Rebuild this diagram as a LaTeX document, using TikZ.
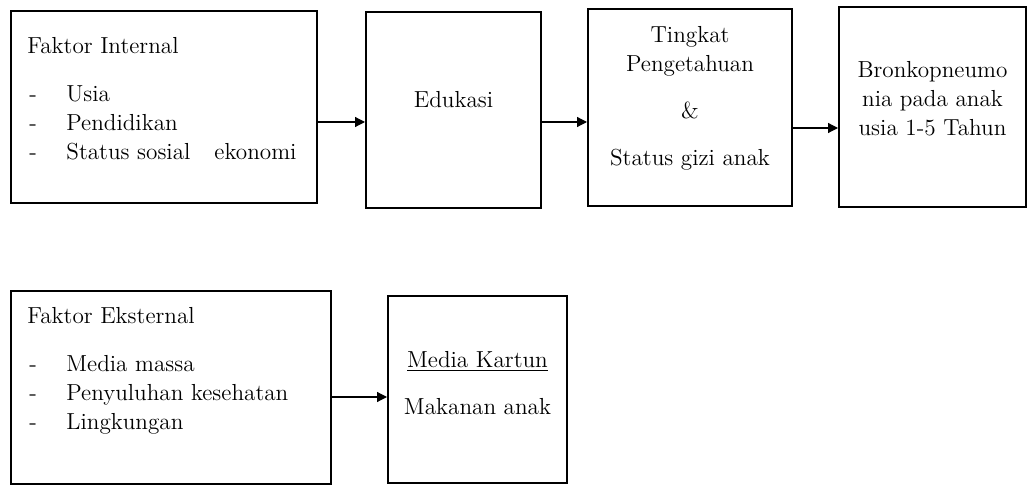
\documentclass[tikz,border=0pt]{standalone}
\usepackage{fontspec}
\usetikzlibrary{arrows.meta, positioning}
\tikzset{
  box/.style = {draw, line width=1pt, inner sep=0pt},
  txt/.style = {inner sep=0pt, font=\fontsize{11.6}{14.5}\selectfont},
  arrow/.style = {line width=0.6pt, -{Triangle[length=5pt, width=5pt]}}
}
\newcommand{\itm}[1]{\makebox[19.5pt][l]{\hspace{1pt}-}#1}

\begin{document}
\begin{tikzpicture}[x=0.5pt, y=-0.5pt]
  \useasboundingbox (0,0) rectangle (1028,486);

  % First row
  \node[box, minimum width=153pt, minimum height=96pt] (internal) at (164,107) {};
  \node[box, minimum width=87.5pt, minimum height=98pt] (edukasi) at (453.5,110) {};
  \node[box, minimum width=102pt, minimum height=98.5pt] (pengetahuan) at (690,107.5) {};
  \node[box, minimum width=93.5pt, minimum height=100pt] (bronko) at (932.5,107) {};

  % Second row
  \node[box, minimum width=160pt, minimum height=96.5pt] (eksternal) at (171,387.5) {};
  \node[box, minimum width=89.5pt, minimum height=93.5pt] (media) at (477.5,389.5) {};

  % Texts
  \node[txt, align=left, below right=13.5pt and 8.5pt of internal.north west] (internaltxt)
    {Faktor Internal\\[9.5pt]\itm{Usia}\\\itm{Pendidikan}\\\itm{Status sosial\hspace{12pt}ekonomi}};
  \node[txt, anchor=base] (edukasitxt) at ([yshift=1pt]edukasi.center) {Edukasi};
  \node[txt, align=center, below=9pt of pengetahuan.north] (pengetahuantxt)
    {Tingkat\\Pengetahuan\\[9pt]\&\\[9pt]Status gizi anak};
  \node[txt, align=center, below=27.5pt of bronko.north] (bronkotxt)
    {Bronkopneumo\\nia pada anak\\usia 1-5 Tahun};
  \node[txt, align=left, below right=8.5pt and 8.5pt of eksternal.north west] (eksternaltxt)
    {Faktor Eksternal\\[9.5pt]\itm{Media massa}\\\itm{Penyuluhan kesehatan}\\\itm{Lingkungan}};
  \node[txt, align=center, below=28pt of media.north] (mediatxt)
    {\underline{Media Kartun}\\[9pt]Makanan anak};

  % Arrows
  \draw[arrow] ([yshift=-7.5pt]internal.east) -- ([yshift=-6pt]edukasi.west);
  \draw[arrow] ([yshift=-6pt]edukasi.east) -- ([yshift=-7.25pt]pengetahuan.west);
  \draw[arrow] ([yshift=-10.25pt]pengetahuan.east) -- ([yshift=-10.5pt]bronko.west);
  \draw[arrow] ([yshift=-4.75pt]eksternal.east) -- ([yshift=-3.75pt]media.west);

\end{tikzpicture}
\end{document}
